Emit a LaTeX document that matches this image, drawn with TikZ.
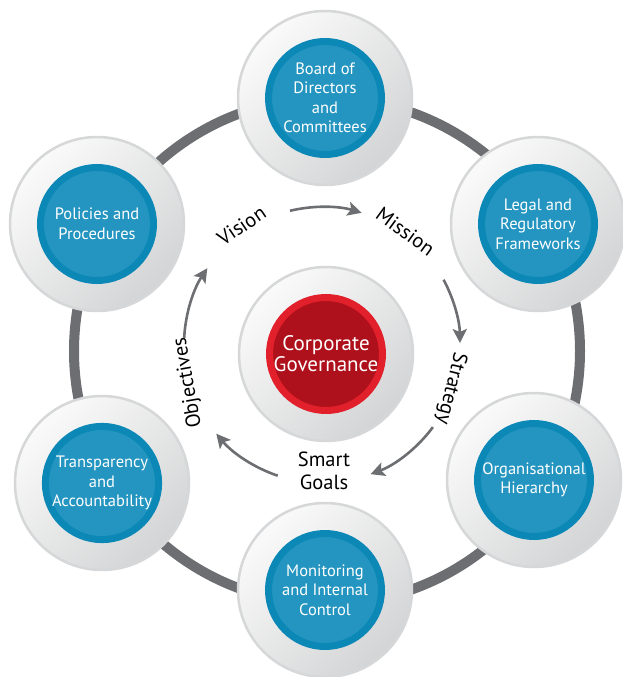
\documentclass[tikz,border=0pt]{standalone}
\usepackage{fontspec}
\setmainfont{PT Sans}
\usetikzlibrary{arrows.meta}

\definecolor{ringgray}{HTML}{6D6E71}
\definecolor{discedge}{HTML}{D6D7D8}
\definecolor{disclight}{HTML}{FAFAFA}
\definecolor{discdark}{HTML}{D3D4D5}
\definecolor{blueedge}{HTML}{0B88B6}
\definecolor{bluefill}{HTML}{2495C0}
\definecolor{rededge}{HTML}{E2202B}
\definecolor{redfill}{HTML}{AE111B}
\definecolor{arrowgray}{HTML}{6D6E71}

\tikzset{
  disc/.style={circle, minimum size=174pt, inner sep=0pt, draw=discedge, line width=2.5pt,
    top color=disclight, bottom color=discdark, shading angle=45},
  core/.style={circle, minimum size=113pt, inner sep=0pt, line width=7pt, align=center,
    text=white, font=\fontsize{16.5}{19.5}\selectfont},
  bluecore/.style={core, draw=blueedge, fill=bluefill},
  redcore/.style={core, draw=rededge, fill=redfill, font=\fontsize{21}{21}\selectfont},
  ringline/.style={draw=ringgray, line width=10pt},
  cyclearrow/.style={draw=arrowgray, line width=2.6pt,
    -{Stealth[length=14pt,width=14pt,inset=3pt]}},
  cyclelabel/.style={font=\fontsize{20.5}{23}\selectfont, text=black, inner sep=0pt},
}

\begin{document}
\begin{tikzpicture}[x=1pt, y=1pt]
  \useasboundingbox (0,0) rectangle (622,-677);

  % outer ring linking the six pillars
  \coordinate (ringc) at (327,-351);
  \draw[ringline] (ringc) circle[radius=253];

  % pillars around the ring
  \node[disc] (board)  at (325,-98)  {};
  \node[disc] (legal)  at (538,-224) {};
  \node[disc] (org)    at (534,-480) {};
  \node[disc] (monit)  at (325,-590) {};
  \node[disc] (transp) at (102,-483) {};
  \node[disc] (policy) at (97,-224)  {};
  \node[disc] (corp)   at (326,-354) {};

  \node[bluecore] (boardtxt)  at (board)  {Board of\\Directors\\and\\Committees};
  \node[bluecore] (legaltxt)  at (legal)  {Legal and\\Regulatory\\Frameworks};
  \node[bluecore] (orgtxt)    at (org)    {Organisational\\Hierarchy};
  \node[bluecore] (monittxt)  at (monit)  {Monitoring\\and Internal\\Control};
  \node[bluecore] (transptxt) at (transp) {Transparency\\and\\Accountability};
  \node[bluecore] (policytxt) at (policy) {Policies and\\Procedures};
  \node[redcore]  (corptxt)   at (corp)   {Corporate\\Governance};

  % inner cycle
  \coordinate (hub) at (322,-345);
  \node[cyclelabel, rotate=34]   (vision) at ([shift={(124:144)}]hub)  {Vision};
  \node[cyclelabel, rotate=-36]  (mission) at ([shift={(53.7:141)}]hub) {Mission};
  \node[cyclelabel, rotate=-104] (strategy) at ([shift={(-18.6:136)}]hub) {Strategy};
  \node[cyclelabel, align=center] (smart) at (324,-471) {Smart\\Goals};
  \node[cyclelabel, rotate=100]  (objectives) at ([shift={(195.8:139)}]hub) {Objectives};

  \draw[cyclearrow] ([shift={(103.4:138)}]hub) arc[start angle=103.4, end angle=73.3, radius=138];
  \draw[cyclearrow] ([shift={(28.2:138)}]hub) arc[start angle=28.2, end angle=0.8, radius=138];
  \draw[cyclearrow] ([shift={(-36.5:138)}]hub) arc[start angle=-36.5, end angle=-69.4, radius=138];
  \draw[cyclearrow] ([shift={(-108.7:138)}]hub) arc[start angle=-108.7, end angle=-140, radius=138];
  \draw[cyclearrow] ([shift={(177:138)}]hub) arc[start angle=177, end angle=146.2, radius=138];
\end{tikzpicture}
\end{document}
